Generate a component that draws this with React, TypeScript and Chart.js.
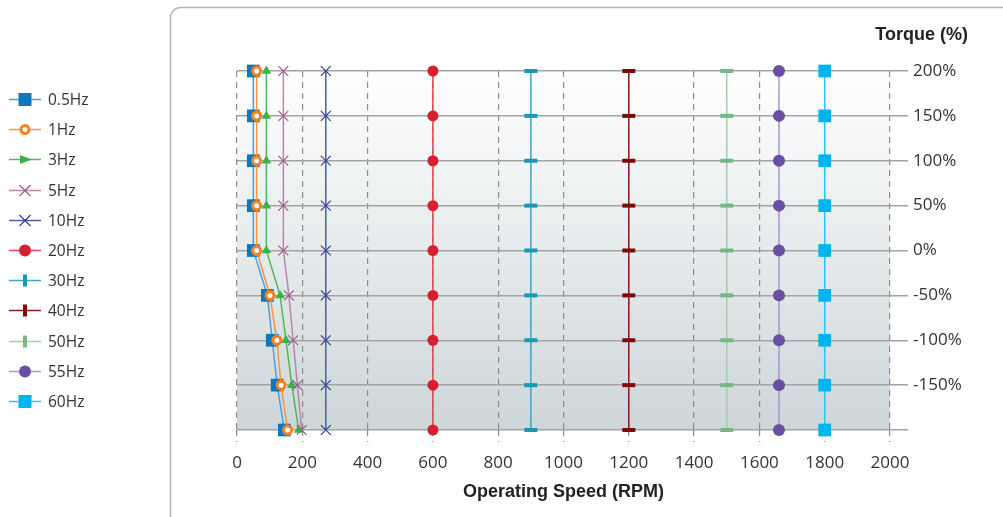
import React, { useEffect, useRef } from 'react';
import { Chart, registerables } from 'chart.js';

Chart.register(...registerables);

// ---- data ----
const torqueLevels = [200, 150, 100, 50, 0, -50, -100, -150, -200];
const torqueTickLabels = ['200%', '150%', '100%', '50%', '0%', '-50%', '-100%', '-150%', ''];
const speedTicks = [0, 200, 400, 600, 800, 1000, 1200, 1400, 1600, 1800, 2000];

const seriesNames = ['0.5Hz', '1Hz', '3Hz', '5Hz', '10Hz', '20Hz', '30Hz', '40Hz', '50Hz', '55Hz', '60Hz'];

const speed05Hz = [50, 50, 50, 50, 50, 93, 108, 123, 145];
const speed1Hz = [60, 60, 60, 60, 60, 101, 122, 135, 155];
const speed3Hz = [90, 90, 90, 90, 90, 132, 150, 168, 189];
const speed5Hz = [142, 142, 142, 142, 142, 159, 172, 185, 198];
const speed10Hz = [272, 272, 272, 272, 272, 272, 272, 272, 272];
const speed20Hz = [600, 600, 600, 600, 600, 600, 600, 600, 600];
const speed30Hz = [900, 900, 900, 900, 900, 900, 900, 900, 900];
const speed40Hz = [1200, 1200, 1200, 1200, 1200, 1200, 1200, 1200, 1200];
const speed50Hz = [1500, 1500, 1500, 1500, 1500, 1500, 1500, 1500, 1500];
const speed55Hz = [1660, 1660, 1660, 1660, 1660, 1660, 1660, 1660, 1660];
const speed60Hz = [1800, 1800, 1800, 1800, 1800, 1800, 1800, 1800, 1800];

const seriesSpeeds = [
  speed05Hz, speed1Hz, speed3Hz, speed5Hz, speed10Hz, speed20Hz,
  speed30Hz, speed40Hz, speed50Hz, speed55Hz, speed60Hz,
];

// ---- styles ----
type SeriesStyle = {
  line: string;
  fill: string;
  stroke: string;
  shape: string;
  radius: number;
  pointBorder: number;
};

const seriesStyles: SeriesStyle[] = [
  { line: '#4a9fda', fill: '#0b78bd', stroke: '#0b78bd', shape: 'rect', radius: 9, pointBorder: 0 },
  { line: '#f7953a', fill: '#ffffff', stroke: '#f58220', shape: 'circle', radius: 4, pointBorder: 3 },
  { line: '#4cb85b', fill: '#3bb34a', stroke: '#3bb34a', shape: 'triangle', radius: 5.5, pointBorder: 0 },
  { line: '#bb86aa', fill: '#9b5c86', stroke: '#9b5c86', shape: 'crossRot', radius: 7, pointBorder: 1.2 },
  { line: '#4a5cab', fill: '#2d3f93', stroke: '#2d3f93', shape: 'crossRot', radius: 7, pointBorder: 1.2 },
  { line: '#e0444e', fill: '#d62030', stroke: '#d62030', shape: 'circle', radius: 5.5, pointBorder: 0 },
  { line: '#3aa8c0', fill: '#1a97b4', stroke: '#1a97b4', shape: 'line', radius: 6.5, pointBorder: 4 },
  { line: '#8b1a1a', fill: '#7a0a0a', stroke: '#7a0a0a', shape: 'line', radius: 6.5, pointBorder: 4 },
  { line: '#9fd0a6', fill: '#76b884', stroke: '#76b884', shape: 'line', radius: 6.5, pointBorder: 4 },
  { line: '#a996cf', fill: '#6a4ea3', stroke: '#6a4ea3', shape: 'circle', radius: 6, pointBorder: 0 },
  { line: '#33c3f0', fill: '#00b5ef', stroke: '#00b5ef', shape: 'rect', radius: 9, pointBorder: 0 },
];

function drawLegendMarker(ctx: CanvasRenderingContext2D, s: SeriesStyle, cx: number, cy: number) {
  ctx.save();
  ctx.fillStyle = s.fill;
  ctx.strokeStyle = s.stroke;
  switch (s.shape) {
    case 'rect':
      ctx.fillRect(cx - 6.5, cy - 6.5, 13, 13);
      break;
    case 'circle':
      ctx.beginPath();
      ctx.arc(cx, cy, s.pointBorder > 0 ? 4 : 6, 0, Math.PI * 2);
      ctx.fill();
      if (s.pointBorder > 0) {
        ctx.lineWidth = s.pointBorder;
        ctx.stroke();
      }
      break;
    case 'triangle':
      ctx.beginPath();
      ctx.moveTo(cx + 7, cy);
      ctx.lineTo(cx - 5, cy - 4.5);
      ctx.lineTo(cx - 5, cy + 4.5);
      ctx.closePath();
      ctx.fill();
      break;
    case 'crossRot':
      ctx.lineWidth = 1.2;
      ctx.beginPath();
      ctx.moveTo(cx - 5.5, cy - 5.5);
      ctx.lineTo(cx + 5.5, cy + 5.5);
      ctx.moveTo(cx - 5.5, cy + 5.5);
      ctx.lineTo(cx + 5.5, cy - 5.5);
      ctx.stroke();
      break;
    case 'line':
      ctx.fillRect(cx - 2, cy - 6, 4, 12);
      break;
  }
  ctx.restore();
}

const decorPlugin = {
  id: 'decor',
  beforeDraw(chart: any) {
    const { ctx, chartArea } = chart;
    ctx.save();
    // frame
    ctx.strokeStyle = '#b4b4b4';
    ctx.lineWidth = 1.5;
    ctx.beginPath();
    ctx.moveTo(170.5, 540);
    ctx.lineTo(170.5, 17);
    ctx.arcTo(170.5, 7.5, 180.5, 7.5, 10);
    ctx.lineTo(1020, 7.5);
    ctx.stroke();
    // plot background gradient
    const g = ctx.createLinearGradient(0, chartArea.top, 0, chartArea.bottom);
    g.addColorStop(0, '#ffffff');
    g.addColorStop(1, '#cdd6d9');
    ctx.fillStyle = g;
    ctx.fillRect(chartArea.left, chartArea.top, chartArea.right - chartArea.left, chartArea.bottom - chartArea.top);
    ctx.restore();
  },
  afterDraw(chart: any) {
    const { ctx } = chart;
    ctx.save();
    // y axis title
    ctx.font = 'bold 18px "Liberation Sans", Arial, sans-serif';
    ctx.fillStyle = '#222222';
    ctx.textAlign = 'right';
    ctx.textBaseline = 'middle';
    ctx.fillText('Torque (%)', 968, 35);
    // legend
    ctx.font = '15.5px "Open Sans", sans-serif';
    ctx.textAlign = 'left';
    seriesNames.forEach((name, i) => {
      const s = seriesStyles[i];
      const y = Math.round(99 + 30.2 * i) + 0.5;
      ctx.strokeStyle = s.line;
      ctx.lineWidth = 1.5;
      ctx.beginPath();
      ctx.moveTo(9, y);
      ctx.lineTo(41, y);
      ctx.stroke();
      drawLegendMarker(ctx, s, 25, y);
      ctx.fillStyle = '#333333';
      ctx.fillText(name, 48, y + 1);
    });
    ctx.restore();
  },
};

export default function App() {
  const canvasRef = useRef<HTMLCanvasElement | null>(null);

  useEffect(() => {
    const canvas = canvasRef.current;
    if (!canvas) return;
    const datasets = seriesSpeeds.map((speeds, i) => {
      const s = seriesStyles[i];
      return {
        label: seriesNames[i],
        data: speeds.map((x, j) => ({ x, y: torqueLevels[j] })),
        showLine: true,
        borderColor: s.line,
        backgroundColor: s.fill,
        borderWidth: 1.5,
        pointStyle: s.shape,
        pointRadius: s.radius,
        pointHoverRadius: s.radius,
        pointBackgroundColor: s.fill,
        pointBorderColor: s.stroke,
        pointBorderWidth: s.pointBorder,
        clip: false,
        order: seriesNames.length - i,
        tension: 0,
      };
    });

    const chart = new Chart(canvas, {
      type: 'scatter',
      data: { datasets },
      options: {
        responsive: false,
        animation: false,
        layout: { padding: { left: 237, top: 71, right: 0, bottom: 0 } },
        plugins: {
          legend: { display: false },
          tooltip: { enabled: false },
          title: { display: false },
        },
        scales: {
          x: {
            type: 'linear',
            position: 'bottom',
            min: 0,
            max: 2000,
            afterBuildTicks: (scale: any) => {
              scale.ticks = speedTicks.map((v) => ({ value: v }));
            },
            afterFit: (scale: any) => {
              scale.height = 87;
            },
            ticks: {
              autoSkip: false,
              maxRotation: 0,
              color: '#333333',
              font: { family: '"Open Sans", sans-serif', size: 17 },
              padding: 11,
              callback: (v: any) => String(v),
            },
            grid: {
              color: '#8c8c8c',
              lineWidth: 1.2,
              borderDash: [6, 5],
              tickLength: 12,
              tickBorderDash: [6, 5],
              tickColor: '#8c8c8c',
            },
            border: { display: false, dash: [6, 5] },
            title: {
              display: true,
              text: 'Operating Speed (RPM)',
              color: '#222222',
              font: { family: '"Liberation Sans", Arial, sans-serif', size: 18, weight: 'bold' },
              padding: { top: 4, bottom: 14 },
            },
          },
          y: {
            type: 'linear',
            position: 'right',
            min: -200,
            max: 200,
            afterBuildTicks: (scale: any) => {
              scale.ticks = torqueLevels.map((v) => ({ value: v }));
            },
            afterFit: (scale: any) => {
              scale.width = 113;
            },
            ticks: {
              autoSkip: false,
              color: '#333333',
              font: { family: '"Open Sans", sans-serif', size: 17 },
              padding: 5,
              callback: (v: any) => {
                const idx = torqueLevels.indexOf(Number(v));
                return idx >= 0 ? torqueTickLabels[idx] : '';
              },
            },
            grid: {
              color: '#a3a3a3',
              lineWidth: 1.5,
              tickLength: 18,
              tickColor: '#a3a3a3',
            },
            border: { display: false },
          },
        },
      },
      plugins: [decorPlugin],
    } as any);

    return () => {
      chart.destroy();
    };
  }, []);

  return (
    <div style={{ position: 'fixed', left: 0, top: 0, width: 1003, height: 517, background: '#ffffff' }}>
      <canvas ref={canvasRef} width={1003} height={517} style={{ display: 'block' }} />
    </div>
  );
}
